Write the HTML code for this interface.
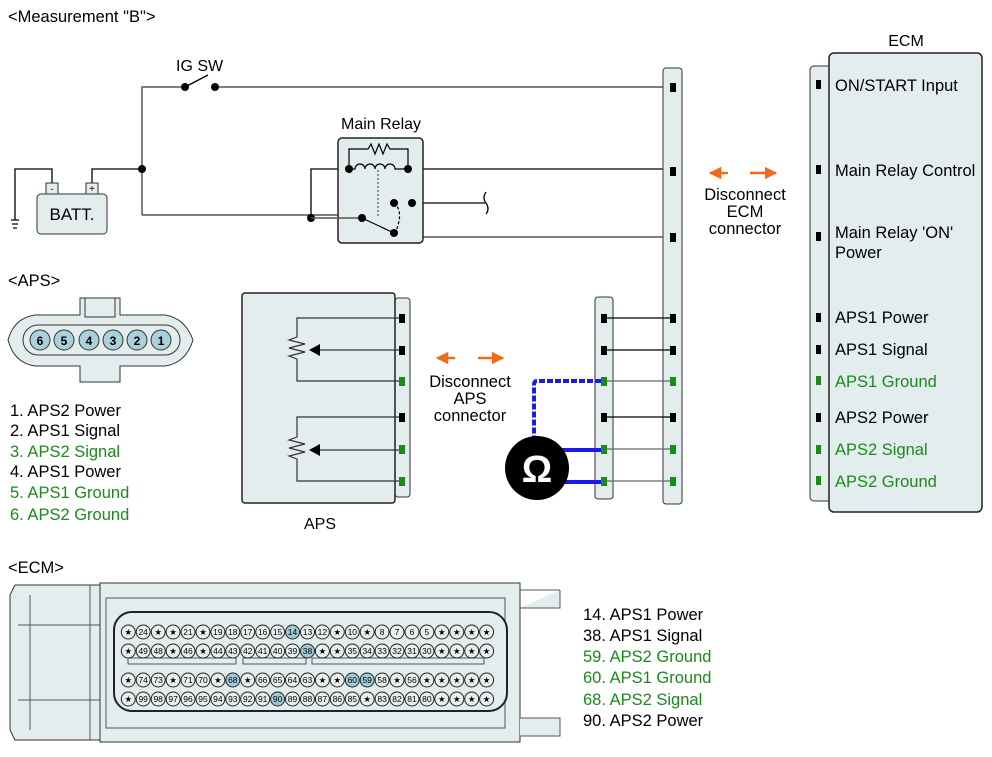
<!DOCTYPE html>
<html><head><meta charset="utf-8"><style>
html,body{margin:0;padding:0;background:#fff}
svg{display:block;font-family:"Liberation Sans",sans-serif}
.pn text{font-size:8.5px;text-anchor:middle}
</style></head><body>
<svg width="992" height="757" viewBox="0 0 992 757" xmlns="http://www.w3.org/2000/svg">
<defs>
<marker id="ah" viewBox="0 0 10 10" refX="9" refY="5" markerWidth="5" markerHeight="5" orient="auto"><path d="M0,0L10,5L0,10z" fill="#f26a1b"/></marker>
</defs>
<text x="8" y="22" font-size="16.5">&lt;Measurement "B"&gt;</text>

<g fill="none" stroke="#555" stroke-width="1.5">
<path d="M142,215 V87 H185"/>
<path d="M215,87 H673"/>
<path d="M142,215 H362"/>
<path d="M412,203 V237 H673"/>
</g>
<g fill="none" stroke="#000" stroke-width="1.3">
<path d="M185,87 L208,75"/>
<path d="M92,187 V169 H142"/>
<path d="M52,187 V169 H15 V220"/>
<path d="M11,220 H19 M12,224 H18 M13,228 H17"/>
<path d="M311,215 V169 H349"/>
<path d="M408,169 H673"/>
<path d="M412,203 H485"/>
<path d="M486,192 q-4,6 0,11 q4,6 0,11"/>
</g>
<circle cx="185" cy="87" r="4"/><circle cx="215" cy="87" r="4"/>
<text x="176" y="71" font-size="16">IG SW</text>
<circle cx="142" cy="169" r="4"/><circle cx="311" cy="218" r="4"/>

<rect x="37" y="194" width="70" height="40" rx="4" fill="#e4eded" stroke="#333"/>
<rect x="46" y="183" width="12" height="11" fill="#e4eded" stroke="#333"/>
<rect x="86" y="183" width="12" height="11" fill="#e4eded" stroke="#333"/>
<text x="52" y="192" font-size="9" text-anchor="middle">-</text>
<text x="92" y="192" font-size="10" text-anchor="middle">+</text>
<text x="72" y="220" font-size="17" text-anchor="middle">BATT.</text>

<text x="381" y="129" font-size="16" text-anchor="middle">Main Relay</text>
<rect x="338" y="138" width="85" height="105" rx="4" fill="#e4eded" stroke="#222" stroke-width="1.5"/>
<g fill="none" stroke="#000" stroke-width="1.2">
<path d="M349,169 V149 H368 l3,-5 l4,10 l4,-10 l4,10 l4,-10 l3,5 H408 V169"/>
<path d="M349,169 H355 a5,5 0 0 1 10,0 a5,5 0 0 1 10,0 a5,5 0 0 1 10,0 a5,5 0 0 1 10,0 H408"/>
<path d="M378,170 V218" stroke-dasharray="2,2" stroke="#555"/>
<path d="M362,218 L394,233"/>
<path d="M394,203 q10,8 2,28" stroke-dasharray="3,2"/>
<path d="M311,218 H362" stroke="#555" stroke-width="1.5"/>
</g>
<circle cx="349" cy="169" r="4"/><circle cx="408" cy="169" r="4"/>
<circle cx="362" cy="218" r="4"/><circle cx="394" cy="233" r="4"/>
<circle cx="394" cy="203" r="4"/><circle cx="412" cy="203" r="4"/>

<rect x="663" y="68" width="19" height="436" rx="3" fill="#e4eded" stroke="#333"/>
<rect x="595" y="297" width="18" height="202" rx="3" fill="#e4eded" stroke="#333"/>
<g stroke-width="1.3" fill="none">
<path d="M604,318 H673 M604,350 H673 M604,417 H673" stroke="#000"/>
<path d="M604,381 H673 M604,449 H673 M604,481 H673" stroke="#666"/>
</g>
<g fill="#000">
<rect x="670" y="83" width="6" height="9"/><rect x="670" y="167" width="6" height="9"/><rect x="670" y="233" width="6" height="9"/>
<rect x="670" y="314" width="6" height="9"/><rect x="670" y="346" width="6" height="9"/><rect x="670" y="413" width="6" height="9"/>
<rect x="601" y="314" width="6" height="9"/><rect x="601" y="346" width="6" height="9"/><rect x="601" y="413" width="6" height="9"/>
</g>
<g fill="#1a8a1a">
<rect x="670" y="377" width="6" height="9"/><rect x="670" y="445" width="6" height="9"/><rect x="670" y="477" width="6" height="9"/>
<rect x="601" y="377" width="6" height="9"/><rect x="601" y="445" width="6" height="9"/><rect x="601" y="477" width="6" height="9"/>
</g>
<path d="M601,381 H537 Q534,381 534,385 V440" fill="none" stroke="#1a1aee" stroke-width="4" stroke-dasharray="6,2"/>
<path d="M545,450 H601 M545,482 H601" stroke="#1a1aee" stroke-width="4"/>
<circle cx="537" cy="468" r="32" fill="#000"/>
<text x="537" y="482" font-size="38" font-weight="bold" fill="#fff" text-anchor="middle">Ω</text>

<path d="M728,173 H710" stroke="#f26a1b" stroke-width="2.5" marker-end="url(#ah)"/>
<path d="M750,173 H776" stroke="#f26a1b" stroke-width="2.5" marker-end="url(#ah)"/>
<g font-size="16.5" text-anchor="middle"><text x="745" y="200">Disconnect</text><text x="745" y="217">ECM</text><text x="745" y="234">connector</text></g>

<path d="M455,358 H437" stroke="#f26a1b" stroke-width="2.5" marker-end="url(#ah)"/>
<path d="M478,358 H503" stroke="#f26a1b" stroke-width="2.5" marker-end="url(#ah)"/>
<g font-size="16.5" text-anchor="middle"><text x="470" y="387">Disconnect</text><text x="470" y="404">APS</text><text x="470" y="421">connector</text></g>

<rect x="810" y="66" width="26" height="435" rx="4" fill="#e4eded" stroke="#333"/>
<rect x="829" y="53" width="153" height="459" rx="5" fill="#e4eded" stroke="#222" stroke-width="1.5"/>
<text x="906" y="46" font-size="16" text-anchor="middle">ECM</text>
<g fill="#000"><rect x="816" y="80" width="5" height="9"/><rect x="816" y="165" width="5" height="9"/><rect x="816" y="232" width="5" height="9"/><rect x="816" y="313" width="5" height="9"/><rect x="816" y="345" width="5" height="9"/><rect x="816" y="413" width="5" height="9"/></g>
<g fill="#1a8a1a"><rect x="816" y="376" width="5" height="9"/><rect x="816" y="445" width="5" height="9"/><rect x="816" y="476" width="5" height="9"/></g>
<g font-size="16.5">
<text x="835" y="91">ON/START Input</text>
<text x="835" y="176">Main Relay Control</text>
<text x="835" y="238">Main Relay 'ON'</text>
<text x="835" y="258">Power</text>
<text x="835" y="323">APS1 Power</text>
<text x="835" y="355">APS1 Signal</text>
<text x="835" y="387" fill="#1a8a1a">APS1 Ground</text>
<text x="835" y="423">APS2 Power</text>
<text x="835" y="455" fill="#1a8a1a">APS2 Signal</text>
<text x="835" y="487" fill="#1a8a1a">APS2 Ground</text>
</g>

<rect x="395" y="298" width="15" height="199" rx="3" fill="#e4eded" stroke="#333"/>
<rect x="242" y="293" width="153" height="210" rx="3" fill="#e4eded" stroke="#222" stroke-width="1.5"/>
<g fill="none" stroke="#333" stroke-width="1.2">
<path d="M402,318 H297 V337 l-8,3 l16,4 l-16,4 l16,4 l-16,4 l8,3 V381 H402"/>
<path d="M402,350 H318"/>
<path d="M402,417 H297 V437 l-8,3 l16,4 l-16,4 l16,4 l-16,4 l8,3 V481 H402"/>
<path d="M402,450 H318"/>
</g>
<path d="M309,350 L320,344 V356z M309,450 L320,444 V456z"/>
<g fill="#000"><rect x="399" y="314" width="6" height="9"/><rect x="399" y="346" width="6" height="9"/><rect x="399" y="413" width="6" height="9"/></g>
<g fill="#1a8a1a"><rect x="399" y="377" width="6" height="9"/><rect x="399" y="445" width="6" height="9"/><rect x="399" y="477" width="6" height="9"/></g>
<text x="320" y="529" font-size="16" text-anchor="middle">APS</text>

<text x="8" y="286" font-size="16.5">&lt;APS&gt;</text>
<path d="M80,298 H120 V315 H165 Q185,318 193,340 Q186,363 165,366 H120 V382 H80 V366 H35 Q14,363 8,340 Q14,318 35,315 H80z" fill="#e4eded" stroke="#333"/>
<rect x="85" y="298" width="30" height="19" fill="#e4eded" stroke="#333"/>
<rect x="23" y="325" width="157" height="30" rx="15" fill="#e4eded" stroke="#333"/>
<g fill="#aad0dc" stroke="#333"><circle cx="40" cy="340" r="10"/><circle cx="64" cy="340" r="10"/><circle cx="89" cy="340" r="10"/><circle cx="113" cy="340" r="10"/><circle cx="137" cy="340" r="10"/><circle cx="161" cy="340" r="10"/></g>
<g font-size="12" font-weight="bold" text-anchor="middle"><text x="40" y="345">6</text><text x="64" y="345">5</text><text x="89" y="345">4</text><text x="113" y="345">3</text><text x="137" y="345">2</text><text x="161" y="345">1</text></g>
<g font-size="16.5">
<text x="10" y="416">1. APS2 Power</text>
<text x="10" y="436">2. APS1 Signal</text>
<text x="10" y="457" fill="#1a8a1a">3. APS2 Signal</text>
<text x="10" y="477">4. APS1 Power</text>
<text x="10" y="498" fill="#1a8a1a">5. APS1 Ground</text>
<text x="10" y="520" fill="#1a8a1a">6. APS2 Ground</text>
</g>

<text x="8" y="573" font-size="16.5">&lt;ECM&gt;</text>
<path d="M15,585 H100 V740 H15 L10,730 V595z" fill="#e4eded" stroke="#333"/>
<path d="M18,625 H100 M18,700 H100 M30,595 V730 M90,585 V740" stroke="#555" fill="none"/>
<rect x="100" y="583" width="420" height="159" fill="#e4eded" stroke="#333"/>
<path d="M520,590 H560 M520,608 H560 V590 M520,718 H560 V736 H520" stroke="#555" fill="#e4eded"/>
<path d="M106,598 H505 V728 H106z" fill="none" stroke="#555"/>
<rect x="114" y="612" width="393" height="99" rx="18" fill="#e4eded" stroke="#222" stroke-width="2"/>
<g fill="#e4eded" stroke="#555"><rect x="128" y="658" width="108" height="6"/><rect x="243" y="658" width="63" height="6"/><rect x="312" y="658" width="172" height="6"/></g>
<g class="pn">
<g fill="#e9eeee" stroke="#222">
<circle cx="128.3" cy="632" r="7"/><circle cx="143.2" cy="632" r="7"/><circle cx="158.2" cy="632" r="7"/><circle cx="173.1" cy="632" r="7"/><circle cx="188" cy="632" r="7"/><circle cx="203" cy="632" r="7"/><circle cx="217.9" cy="632" r="7"/><circle cx="232.8" cy="632" r="7"/><circle cx="247.7" cy="632" r="7"/><circle cx="262.7" cy="632" r="7"/><circle cx="277.6" cy="632" r="7"/><circle cx="292.5" cy="632" r="7" fill="#9fcbd8"/><circle cx="307.5" cy="632" r="7"/><circle cx="322.4" cy="632" r="7"/><circle cx="337.3" cy="632" r="7"/><circle cx="352.3" cy="632" r="7"/><circle cx="367.2" cy="632" r="7"/><circle cx="382.1" cy="632" r="7"/><circle cx="397" cy="632" r="7"/><circle cx="412" cy="632" r="7"/><circle cx="426.9" cy="632" r="7"/><circle cx="441.8" cy="632" r="7"/><circle cx="456.8" cy="632" r="7"/><circle cx="471.7" cy="632" r="7"/><circle cx="486.6" cy="632" r="7"/>
<circle cx="128.3" cy="651" r="7"/><circle cx="143.2" cy="651" r="7"/><circle cx="158.2" cy="651" r="7"/><circle cx="173.1" cy="651" r="7"/><circle cx="188" cy="651" r="7"/><circle cx="203" cy="651" r="7"/><circle cx="217.9" cy="651" r="7"/><circle cx="232.8" cy="651" r="7"/><circle cx="247.7" cy="651" r="7"/><circle cx="262.7" cy="651" r="7"/><circle cx="277.6" cy="651" r="7"/><circle cx="292.5" cy="651" r="7"/><circle cx="307.5" cy="651" r="7" fill="#9fcbd8"/><circle cx="322.4" cy="651" r="7"/><circle cx="337.3" cy="651" r="7"/><circle cx="352.3" cy="651" r="7"/><circle cx="367.2" cy="651" r="7"/><circle cx="382.1" cy="651" r="7"/><circle cx="397" cy="651" r="7"/><circle cx="412" cy="651" r="7"/><circle cx="426.9" cy="651" r="7"/><circle cx="441.8" cy="651" r="7"/><circle cx="456.8" cy="651" r="7"/><circle cx="471.7" cy="651" r="7"/><circle cx="486.6" cy="651" r="7"/>
<circle cx="128.3" cy="680" r="7"/><circle cx="143.2" cy="680" r="7"/><circle cx="158.2" cy="680" r="7"/><circle cx="173.1" cy="680" r="7"/><circle cx="188" cy="680" r="7"/><circle cx="203" cy="680" r="7"/><circle cx="217.9" cy="680" r="7"/><circle cx="232.8" cy="680" r="7" fill="#9fcbd8"/><circle cx="247.7" cy="680" r="7"/><circle cx="262.7" cy="680" r="7"/><circle cx="277.6" cy="680" r="7"/><circle cx="292.5" cy="680" r="7"/><circle cx="307.5" cy="680" r="7"/><circle cx="322.4" cy="680" r="7"/><circle cx="337.3" cy="680" r="7"/><circle cx="352.3" cy="680" r="7" fill="#9fcbd8"/><circle cx="367.2" cy="680" r="7" fill="#9fcbd8"/><circle cx="382.1" cy="680" r="7"/><circle cx="397" cy="680" r="7"/><circle cx="412" cy="680" r="7"/><circle cx="426.9" cy="680" r="7"/><circle cx="441.8" cy="680" r="7"/><circle cx="456.8" cy="680" r="7"/><circle cx="471.7" cy="680" r="7"/><circle cx="486.6" cy="680" r="7"/>
<circle cx="128.3" cy="699" r="7"/><circle cx="143.2" cy="699" r="7"/><circle cx="158.2" cy="699" r="7"/><circle cx="173.1" cy="699" r="7"/><circle cx="188" cy="699" r="7"/><circle cx="203" cy="699" r="7"/><circle cx="217.9" cy="699" r="7"/><circle cx="232.8" cy="699" r="7"/><circle cx="247.7" cy="699" r="7"/><circle cx="262.7" cy="699" r="7"/><circle cx="277.6" cy="699" r="7" fill="#9fcbd8"/><circle cx="292.5" cy="699" r="7"/><circle cx="307.5" cy="699" r="7"/><circle cx="322.4" cy="699" r="7"/><circle cx="337.3" cy="699" r="7"/><circle cx="352.3" cy="699" r="7"/><circle cx="367.2" cy="699" r="7"/><circle cx="382.1" cy="699" r="7"/><circle cx="397" cy="699" r="7"/><circle cx="412" cy="699" r="7"/><circle cx="426.9" cy="699" r="7"/><circle cx="441.8" cy="699" r="7"/><circle cx="456.8" cy="699" r="7"/><circle cx="471.7" cy="699" r="7"/><circle cx="486.6" cy="699" r="7"/>
</g>
<text x="128.3" y="635">★</text><text x="143.2" y="635">24</text><text x="158.2" y="635">★</text><text x="173.1" y="635">★</text><text x="188" y="635">21</text><text x="203" y="635">★</text><text x="217.9" y="635">19</text><text x="232.8" y="635">18</text><text x="247.7" y="635">17</text><text x="262.7" y="635">16</text><text x="277.6" y="635">15</text><text x="292.5" y="635">14</text><text x="307.5" y="635">13</text><text x="322.4" y="635">12</text><text x="337.3" y="635">★</text><text x="352.3" y="635">10</text><text x="367.2" y="635">★</text><text x="382.1" y="635">8</text><text x="397" y="635">7</text><text x="412" y="635">6</text><text x="426.9" y="635">5</text><text x="441.8" y="635">★</text><text x="456.8" y="635">★</text><text x="471.7" y="635">★</text><text x="486.6" y="635">★</text>
<text x="128.3" y="654">★</text><text x="143.2" y="654">49</text><text x="158.2" y="654">48</text><text x="173.1" y="654">★</text><text x="188" y="654">46</text><text x="203" y="654">★</text><text x="217.9" y="654">44</text><text x="232.8" y="654">43</text><text x="247.7" y="654">42</text><text x="262.7" y="654">41</text><text x="277.6" y="654">40</text><text x="292.5" y="654">39</text><text x="307.5" y="654">38</text><text x="322.4" y="654">★</text><text x="337.3" y="654">★</text><text x="352.3" y="654">35</text><text x="367.2" y="654">34</text><text x="382.1" y="654">33</text><text x="397" y="654">32</text><text x="412" y="654">31</text><text x="426.9" y="654">30</text><text x="441.8" y="654">★</text><text x="456.8" y="654">★</text><text x="471.7" y="654">★</text><text x="486.6" y="654">★</text>
<text x="128.3" y="683">★</text><text x="143.2" y="683">74</text><text x="158.2" y="683">73</text><text x="173.1" y="683">★</text><text x="188" y="683">71</text><text x="203" y="683">70</text><text x="217.9" y="683">★</text><text x="232.8" y="683">68</text><text x="247.7" y="683">★</text><text x="262.7" y="683">66</text><text x="277.6" y="683">65</text><text x="292.5" y="683">64</text><text x="307.5" y="683">63</text><text x="322.4" y="683">★</text><text x="337.3" y="683">★</text><text x="352.3" y="683">60</text><text x="367.2" y="683">59</text><text x="382.1" y="683">58</text><text x="397" y="683">★</text><text x="412" y="683">56</text><text x="426.9" y="683">★</text><text x="441.8" y="683">★</text><text x="456.8" y="683">★</text><text x="471.7" y="683">★</text><text x="486.6" y="683">★</text>
<text x="128.3" y="702">★</text><text x="143.2" y="702">99</text><text x="158.2" y="702">98</text><text x="173.1" y="702">97</text><text x="188" y="702">96</text><text x="203" y="702">95</text><text x="217.9" y="702">94</text><text x="232.8" y="702">93</text><text x="247.7" y="702">92</text><text x="262.7" y="702">91</text><text x="277.6" y="702">90</text><text x="292.5" y="702">89</text><text x="307.5" y="702">88</text><text x="322.4" y="702">87</text><text x="337.3" y="702">86</text><text x="352.3" y="702">85</text><text x="367.2" y="702">★</text><text x="382.1" y="702">83</text><text x="397" y="702">82</text><text x="412" y="702">81</text><text x="426.9" y="702">80</text><text x="441.8" y="702">★</text><text x="456.8" y="702">★</text><text x="471.7" y="702">★</text><text x="486.6" y="702">★</text>
</g>
<g font-size="16.5">
<text x="583" y="620">14. APS1 Power</text>
<text x="583" y="641">38. APS1 Signal</text>
<text x="583" y="662" fill="#1a8a1a">59. APS2 Ground</text>
<text x="583" y="683" fill="#1a8a1a">60. APS1 Ground</text>
<text x="583" y="705" fill="#1a8a1a">68. APS2 Signal</text>
<text x="583" y="726">90. APS2 Power</text>
</g>
</svg>
</body></html>
